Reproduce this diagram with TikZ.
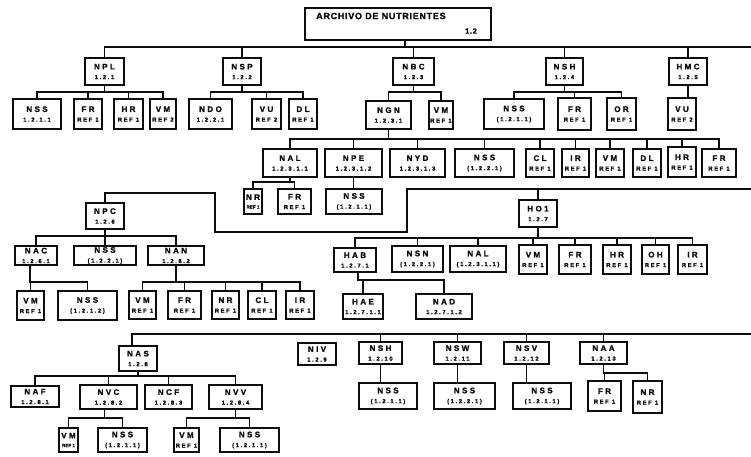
\documentclass[tikz,border=0pt]{standalone}
\usepackage{fontspec}
\newfontfamily\namefont{Liberation Sans}[LetterSpace=30, BoldFeatures={FakeBold=1.8}]
\newfontfamily\numfont{Liberation Sans}[LetterSpace=28, BoldFeatures={FakeBold=2}]
\newfontfamily\headfont{Liberation Sans}[LetterSpace=8, BoldFeatures={FakeBold=1.8}]
\newfontfamily\tinyfont{Liberation Sans}[LetterSpace=0, BoldFeatures={FakeBold=1.4}]
\newcommand\nm{\namefont\bfseries\fontsize{8}{9}\selectfont}
\newcommand\nb{\numfont\bfseries\fontsize{5.8}{6.5}\selectfont}
\newcommand\tinyref{\tinyfont\bfseries\fontsize{4.6}{5}\selectfont}
\definecolor{ink}{gray}{0.05}
\tikzset{
  box/.style={draw=ink, line width=1.9pt, inner sep=0pt, text=ink},
  link/.style={draw=ink, line width=1.5pt, line cap=rect},
  head/.style={inner sep=0pt, text=ink, font=\headfont\bfseries\fontsize{9}{10}\selectfont},
}
% \bx{name}{left}{top}{right}{bottom}{code}{number}
\newcommand\bx[7]{\node[box, minimum width={(#4-#2)*1pt-1.9pt},
  minimum height={(#5-#3)*1pt-1.9pt}] (#1) at ({(#2+#4)/2},{-(#3+#5)/2})
  {\shortstack{\nm #6\\[2.6pt]\nb #7}};}
% \fan{(parent point)}{bus depth}{children}
\newcommand\fan[3]{%
  \coordinate (fanp) at #1;
  \coordinate (fany) at (0,-#2);
  \coordinate (fanb) at (fanp |- fany);
  \draw[link] (fanp) -- (fanb);
  \foreach \kid in {#3}{\draw[link] (\kid.north) |- (fanb);}}
\begin{document}
\begin{tikzpicture}[x=1pt,y=1pt]
\useasboundingbox (0,0) rectangle (751,-457);

% file header
\node[box, line width=2.5pt, minimum width=186pt, minimum height=32pt] (root) at (398,-24) {};
\node[head, anchor=west] (rootT) at (316,-16) {ARCHIVO DE NUTRIENTES};
\node[head, font=\headfont\bfseries\fontsize{7.5}{8}\selectfont] (rootN) at (471,-31) {1.2};

% first level
\bx{npl}{84}{57}{125}{86}{NPL}{1.2.1}
\bx{nsp}{222}{57}{262}{86}{NSP}{1.2.2}
\bx{nbc}{392}{57}{435}{86}{NBC}{1.2.3}
\bx{nsh}{545}{57}{584}{86}{NSH}{1.2.4}
\bx{hmc}{668}{57}{708}{86}{HMC}{1.2.5}

% second level
\bx{nssA}{12}{98}{62}{130}{NSS}{1.2.1.1}
\bx{frA}{73}{98}{103}{130}{FR}{REF 1}
\bx{hrA}{113}{98}{144}{130}{HR}{REF 1}
\bx{vmA}{149}{98}{177}{130}{VM}{REF 2}
\bx{ndo}{188}{98}{233}{130}{NDO}{1.2.2.1}
\bx{vuA}{251}{98}{282}{130}{VU}{REF 2}
\bx{dlA}{288}{98}{318}{130}{DL}{REF 1}
\bx{ngn}{365}{100}{412}{130}{NGN}{1.2.3.1}
\bx{vmB}{428}{100}{454}{130}{VM}{REF 1}
\bx{nssB}{483}{98}{545}{130}{NSS}{(1.2.1.1)}
\bx{frB}{557}{97}{592}{131}{FR}{REF 1}
\bx{orB}{606}{97}{637}{131}{OR}{REF 1}
\bx{vuB}{667}{97}{697}{131}{VU}{REF 2}

% third level
\bx{nal}{262}{148}{318}{178}{NAL}{1.2.3.1.1}
\bx{npe}{324}{148}{383}{178}{NPE}{1.2.3.1.2}
\bx{nyd}{389}{148}{446}{178}{NYD}{1.2.3.1.3}
\bx{nssC}{454}{148}{515}{178}{NSS}{(1.2.2.1)}
\bx{clC}{525}{148}{555}{178}{CL}{REF 1}
\bx{irC}{561}{148}{590}{178}{IR}{REF 1}
\bx{vmC}{595}{148}{625}{178}{VM}{REF 1}
\bx{dlC}{632}{148}{662}{178}{DL}{REF 1}
\bx{hrC}{667}{146}{697}{178}{HR}{REF 1}
\bx{frC}{701}{148}{737}{178}{FR}{REF 1}

% fourth level
\bx{nrD}{243}{188}{263}{215}{NR}{\tinyref REF 1}
\bx{frD}{277}{188}{312}{215}{FR}{REF 1}
\bx{nssD}{325}{188}{383}{215}{NSS}{(1.2.1.1)}

% NPC and HO1
\bx{npc}{85}{202}{125}{230}{NPC}{1.2.6}
\bx{ho1}{518}{199}{558}{228}{HO1}{1.2.7}
\bx{nac}{14}{245}{58}{266}{NAC}{1.2.6.1}
\bx{nssE}{73}{245}{137}{266}{NSS}{(1.2.2.1)}
\bx{nan}{147}{245}{205}{266}{NAN}{1.2.6.2}
\bx{vmE}{16}{290}{45}{321}{VM}{REF 1}
\bx{nssF}{57}{290}{118}{321}{NSS}{(1.2.1.2)}
\bx{vmG}{128}{290}{157}{320}{VM}{REF 1}
\bx{frG}{167}{290}{202}{320}{FR}{REF 1}
\bx{nrG}{211}{290}{240}{320}{NR}{REF 1}
\bx{clG}{247}{290}{277}{320}{CL}{REF 1}
\bx{irG}{285}{290}{315}{320}{IR}{REF 1}
\bx{hab}{333}{247}{377}{273}{HAB}{1.2.7.1}
\bx{nsn}{391}{245}{444}{273}{NSN}{(1.2.2.1)}
\bx{nalH}{449}{245}{507}{273}{NAL}{(1.2.3.1.1)}
\bx{vmH}{518}{244}{548}{275}{VM}{REF 1}
\bx{frH}{558}{244}{592}{275}{FR}{REF 1}
\bx{hrH}{602}{244}{632}{275}{HR}{REF 1}
\bx{ohH}{641}{244}{670}{275}{OH}{REF 1}
\bx{irH}{677}{244}{708}{275}{IR}{REF 1}
\bx{hae}{342}{293}{384}{320}{HAE}{1.2.7.1.1}
\bx{nad}{415}{293}{473}{320}{NAD}{1.2.7.1.2}

% last band
\bx{nas}{118}{345}{158}{372}{NAS}{1.2.8}
\bx{niv}{297}{342}{337}{366}{NIV}{1.2.9}
\bx{nshL}{358}{341}{403}{365}{NSH}{1.2.10}
\bx{nsw}{433}{341}{482}{365}{NSW}{1.2.11}
\bx{nsv}{503}{341}{550}{365}{NSV}{1.2.12}
\bx{naa}{579}{341}{628}{365}{NAA}{1.2.13}
\bx{nssL}{358}{382}{418}{410}{NSS}{(1.2.1.1)}
\bx{nssW}{433}{382}{496}{410}{NSS}{(1.2.2.1)}
\bx{nssV}{512}{382}{572}{410}{NSS}{(1.2.1.1)}
\bx{frN}{587}{380}{622}{412}{FR}{REF 1}
\bx{nrN}{632}{380}{663}{414}{NR}{REF 1}
\bx{naf}{10}{385}{60}{408}{NAF}{1.2.8.1}
\bx{nvc}{79}{384}{138}{410}{NVC}{1.2.8.2}
\bx{ncf}{144}{384}{193}{410}{NCF}{1.2.8.3}
\bx{nvv}{208}{384}{263}{410}{NVV}{1.2.8.4}
\bx{vmP}{58}{427}{79}{453}{VM}{\tinyref REF 1}
\bx{nssP}{97}{427}{148}{453}{NSS}{(1.2.1.1)}
\bx{vmQ}{173}{427}{200}{453}{VM}{REF 1}
\bx{nssQ}{219}{427}{280}{453}{NSS}{(1.2.1.1)}

% continuation ends of the long lines
\coordinate (eTop) at (751,-47);
\coordinate (w1) at (215,-193);
\coordinate (w3) at (407,-232);
\coordinate (eMid) at (751,-189);
\coordinate (eBot) at (751,-334);

% connectors
\fan{([xshift=7pt]root.south)}{47}{npl,nsp,nbc,nsh,hmc}
\draw[link] (hmc.north |- eTop) -- (eTop);
\fan{(npl.south)}{92}{nssA,frA,hrA,vmA}
\fan{(nsp.south)}{92}{ndo,vuA,dlA}
\fan{(nbc.south)}{92}{ngn,vmB}
\fan{(nsh.south)}{92}{nssB,frB,orB}
\draw[link] (hmc.south) -- (hmc.south |- vuB.north);
\fan{(ngn.south)}{139}{nal,npe,nyd,nssC,clC,irC,vmC,dlC,hrC,frC}
\fan{(nal.south)}{182}{nrD,frD}
\draw[link] (npe.south) -- (npe.south |- nssD.north);

\draw[link] (npc.north) |- (w1) |- (w3) |- (eMid);
\draw[link] (ho1.north) -- (ho1.north |- eMid);
\fan{(npc.south)}{236}{nac,nssE,nan}
\fan{([xshift=-6pt]nac.south)}{282}{vmE,nssF}
\fan{(nan.south)}{282}{vmG,frG,nrG,clG,irG}
\fan{(ho1.south)}{238}{hab,nsn,nalH,vmH,frH,hrH,ohH,irH}
\fan{([xshift=3pt]hab.south)}{280}{hae,nad}

\draw[link] ([xshift=-6pt]nas.north) |- (eBot);
\foreach \n in {nshL,nsw,nsv,naa}{\draw[link] (\n.north) -- (\n.north |- eBot);}
\draw[link] (nshL.south) -- (nshL.south |- nssL.north);
\draw[link] (nsw.south) -- (nsw.south |- nssW.north);
\draw[link] (nsv.south) -- (nsv.south |- nssV.north);
\fan{(naa.south)}{373}{frN,nrN}
\fan{(nas.south)}{376}{naf,nvc,ncf,nvv}
\fan{([xshift=-4pt]nvc.south)}{418}{vmP,nssP}
\fan{(nvv.south)}{418}{vmQ,nssQ}
\end{tikzpicture}
\end{document}
